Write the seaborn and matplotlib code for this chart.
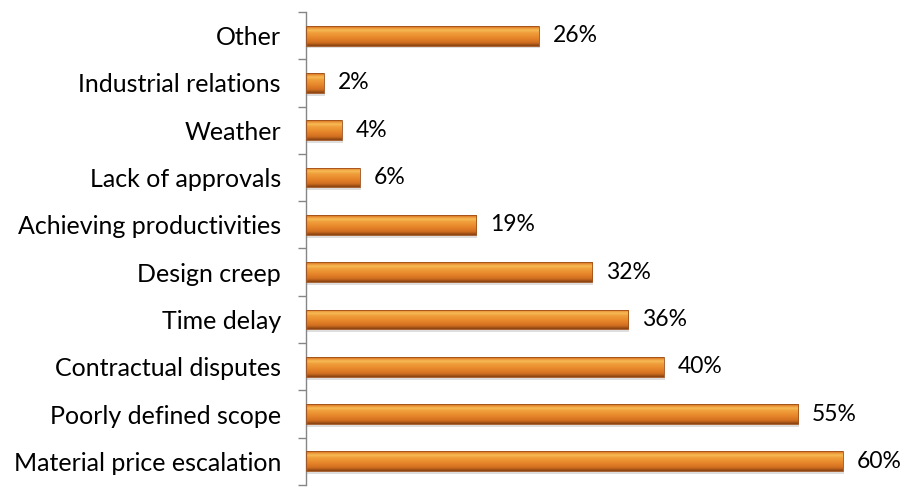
import numpy as np
import pandas as pd
import matplotlib
matplotlib.use("Agg")
import matplotlib.pyplot as plt
import seaborn as sns
from matplotlib.colors import LinearSegmentedColormap

categories = [
    "Other",
    "Industrial relations",
    "Weather",
    "Lack of approvals",
    "Achieving productivities",
    "Design creep",
    "Time delay",
    "Contractual disputes",
    "Poorly defined scope",
    "Material price escalation",
]
values = [26, 2, 4, 6, 19, 32, 36, 40, 55, 60]
value_labels = ["26%", "2%", "4%", "6%", "19%", "32%", "36%", "40%", "55%", "60%"]

df = pd.DataFrame({"cause": categories, "pct": values})

sns.set_theme(style="white")
plt.rcParams["font.family"] = ["Lato", "DejaVu Sans"]

fig = plt.figure(figsize=(9.10, 4.88), dpi=100)
ax = fig.add_axes([306 / 910, 1 - 485 / 488, (900 - 306) / 910, (485 - 12) / 488])

sns.barplot(data=df, x="pct", y="cause", order=categories, color="#E98B2A",
            width=0.42, ax=ax, edgecolor="none", linewidth=0)

ax.set_xlim(0, 594 / 8.95)
ax.set_ylim(len(categories) - 0.5, -0.5)

# Bevelled orange fill for each bar
bevel = LinearSegmentedColormap.from_list(
    "bevel",
    [(0.0, "#B9621C"), (0.07, "#E98A2E"), (0.20, "#F7BE58"), (0.32, "#F0A03C"),
     (0.60, "#E6852A"), (0.84, "#D06E20"), (1.0, "#854010")],
)
grad = np.linspace(0, 1, 64).reshape(-1, 1)
for patch in list(ax.patches):
    x0, y0 = patch.get_x(), patch.get_y()
    w, h = patch.get_width(), patch.get_height()
    # soft drop shadow
    ax.add_patch(plt.Rectangle((x0 + 0.12, y0 + 0.06), w, h, facecolor="#000000",
                               alpha=0.13, edgecolor="none", zorder=1))
    img = ax.imshow(grad, cmap=bevel, aspect="auto", extent=(x0, x0 + w, y0 + h, y0),
                    zorder=2, interpolation="bicubic")
    img.set_clip_path(patch)
    patch.set_facecolor("none")
    ax.add_patch(plt.Rectangle((x0, y0), w, h, facecolor="none",
                               edgecolor="#A0501A", linewidth=0.6, zorder=3))

for i, (v, lab) in enumerate(zip(values, value_labels)):
    ax.annotate(lab, xy=(v, i), xytext=(10, 0), textcoords="offset points",
                ha="left", va="center", fontsize=16.5, color="#000000")

ax.set_xlabel("")
ax.set_ylabel("")
ax.set_xticks([])
ax.set_yticks(range(len(categories)))
ax.set_yticklabels(categories, fontsize=18, color="#000000")
ax.set_yticks(np.arange(len(categories) + 1) - 0.5, minor=True)
ax.tick_params(axis="y", which="major", length=0, pad=18)
ax.tick_params(axis="y", which="minor", length=6, width=1, color="#868686", left=True)

for s in ["top", "right", "bottom"]:
    ax.spines[s].set_visible(False)
ax.spines["left"].set_color("#868686")
ax.spines["left"].set_linewidth(1)

fig.savefig("out.png", dpi=100)
